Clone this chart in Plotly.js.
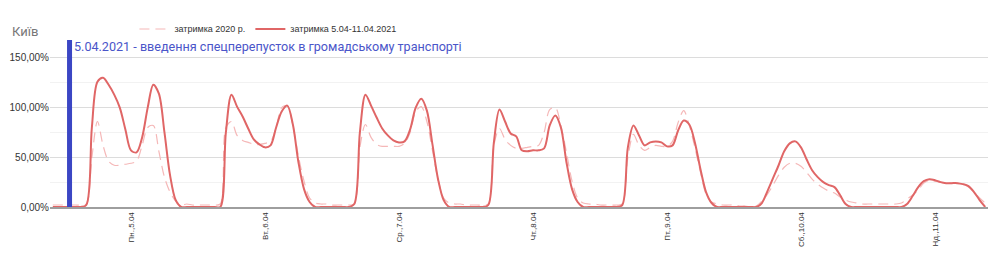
<!DOCTYPE html>
<html>
<head>
<meta charset="utf-8">
<script src="https://cdn.plot.ly/plotly-3.0.1.min.js"></script>
<style>
html,body{margin:0;padding:0;background:#fff;}
#chart{width:1000px;height:257px;}
</style>
</head>
<body>
<div id="chart"></div>
<script>
// Day labels (tick labels) and hours
const dayLabels = ["Пн.,5.04", "Вт.,6.04", "Ср.,7.04", "Чт.,8.04", "Пт.,9.04", "Сб.,10.04", "Нд.,11.04"];
const hours = ["0","1","2","3","4","5","6","7","8","9","10","11","12","13","14","15","16","17","18","19","20","21","22","23"];
const tickHour = "14";
const markerHour = "3";

// затримка 2020 р. (dashed), per day, 24 hourly values, %
const d2020_mon = [2,2,2,2,2,2,3,50,86,62,46,42,42,43,44,46,62,80,82,56,30,15,6,2];
const d2020_tue = [3,2,2,2,2,2,3,80,86,72,67,65,63,63,64,66,80,100,102,82,51,26,9,4];
const d2020_wed = [3,3,2,2,2,2,3,60,83,70,63,61,61,61,61,64,75,96,101,86,57,28,9,4];
const d2020_thu = [3,3,2,2,2,2,3,62,79,68,62,59,59,60,61,62,75,98,100,82,55,26,9,4];
const d2020_fri = [3,3,2,2,2,2,3,50,73,62,57,60,62,61,61,66,85,97,82,60,35,13,5,3];
const d2020_sat = [2,2,2,1,1,0,1,6,13,22,32,40,44,44,41,35,28,23,19,16,14,10,7,5];
const d2020_sun = [4,3,3,3,3,3,3,3,4,8,12,17,24,27,26,25,24,24,24,23,20,15,9,4];

// затримка 5.04-11.04.2021 (solid), per day, 24 hourly values, %
const d2021_mon = [0,0,0,0,0,0,2,80,126,130,123,113,100,78,57,55,70,100,123,114,75,32,7,0];
const d2021_tue = [0,0,0,0,0,0,0,75,113,101,91,79,68,63,60,62,80,96,102,83,45,18,5,0];
const d2021_wed = [0,0,0,0,0,0,3,75,113,102,90,79,72,67,65,66,78,100,109,97,63,28,7,0];
const d2021_thu = [0,0,0,0,0,0,2,65,98,86,74,71,57,56,57,57,59,82,92,80,45,18,5,0];
const d2021_fri = [0,0,0,0,0,0,2,60,82,72,62,65,66,65,61,62,77,87,83,65,38,15,4,0];
const d2021_sat = [0,0,0,0,0,0,0,4,16,29,42,56,64,66,60,48,37,30,25,22,20,12,3,0];
const d2021_sun = [0,0,0,0,0,0,0,0,0,3,11,20,26,28,27,25,24,24,24,23,21,15,7,0];

const yTickVals = [0, 50, 100, 150];
const yTickText = ["0,00%", "50,00%", "100,00%", "150,00%"];

const series2020 = [].concat(d2020_mon, d2020_tue, d2020_wed, d2020_thu, d2020_fri, d2020_sat, d2020_sun);
const series2021 = [].concat(d2021_mon, d2021_tue, d2021_wed, d2021_thu, d2021_fri, d2021_sat, d2021_sun);

const categories = [];
dayLabels.forEach(d => hours.forEach(h => categories.push(d + " " + h + ":00")));
const tickvals = dayLabels.map(d => d + " " + tickHour + ":00");
const markerCat = dayLabels[0] + " " + markerHour + ":00";

const traces = [
  {
    x: categories, y: series2020, type: "scatter", mode: "lines",
    name: "затримка 2020 р.",
    line: {color: "#f5b8b8", width: 1.2, dash: "10px,6px", shape: "spline", smoothing: 0.9},
    hoverinfo: "skip"
  },
  {
    x: categories, y: series2021, type: "scatter", mode: "lines",
    name: "затримка 5.04-11.04.2021",
    line: {color: "#e06666", width: 2, shape: "spline", smoothing: 0.9},
    hoverinfo: "skip"
  }
];

const layout = {
  width: 1000, height: 257,
  margin: {l: 50, r: 12, t: 40, b: 50},
  paper_bgcolor: "#ffffff", plot_bgcolor: "#ffffff",
  font: {family: "Roboto, 'Liberation Sans', Arial, sans-serif", color: "#333"},
  showlegend: true,
  legend: {
    orientation: "h", x: 0.09, xanchor: "left", y: 1.066, yanchor: "middle",
    font: {size: 9, color: "#333", family: "'Liberation Sans', Arial, sans-serif"},
    bgcolor: "rgba(0,0,0,0)", itemwidth: 30
  },
  xaxis: {
    type: "category",
    categoryorder: "array", categoryarray: categories,
    range: [-0.5, categories.length - 0.5],
    tickmode: "array", tickvals: tickvals, ticktext: dayLabels,
    tickangle: -90,
    tickfont: {size: 8, color: "#333", family: "'Liberation Sans', Arial, sans-serif"},
    showgrid: false, zeroline: false,
    showline: true, linecolor: "#9e9e9e", linewidth: 2,
    ticks: ""
  },
  yaxis: {
    range: [0, 168],
    tickmode: "array", tickvals: yTickVals, ticktext: yTickText,
    tickfont: {size: 10, color: "#333", family: "'Liberation Sans', Arial, sans-serif"},
    showgrid: true, gridcolor: "#dcdcdc", gridwidth: 1,
    minor: {tickmode: "array", tickvals: [25, 75, 125], showgrid: true, gridcolor: "#f2f2f2", ticks: ""},
    zeroline: false, showline: false, ticks: ""
  },
  shapes: [
    {type: "line", xref: "x", yref: "paper", x0: markerCat, x1: markerCat, y0: 0, y1: 1,
     line: {color: "#3b46c4", width: 5}, layer: "above"}
  ],
  annotations: [
    {xref: "paper", yref: "paper", x: 0.0235, y: 0.964, xanchor: "left", yanchor: "middle",
     text: "5.04.2021 - введення спецперепусток в громадському транспорті",
     showarrow: false, font: {size: 12.6, color: "#4a55c9", family: "Roboto, sans-serif"}},
    {xref: "paper", yref: "paper", x: -0.043, y: 1.048, xanchor: "left", yanchor: "middle",
     text: "Київ", showarrow: false, font: {size: 13, color: "#777777", family: "Roboto, sans-serif"}}
  ]
};

Plotly.newPlot("chart", traces, layout, {staticPlot: true, displayModeBar: false});
</script>
</body>
</html>
